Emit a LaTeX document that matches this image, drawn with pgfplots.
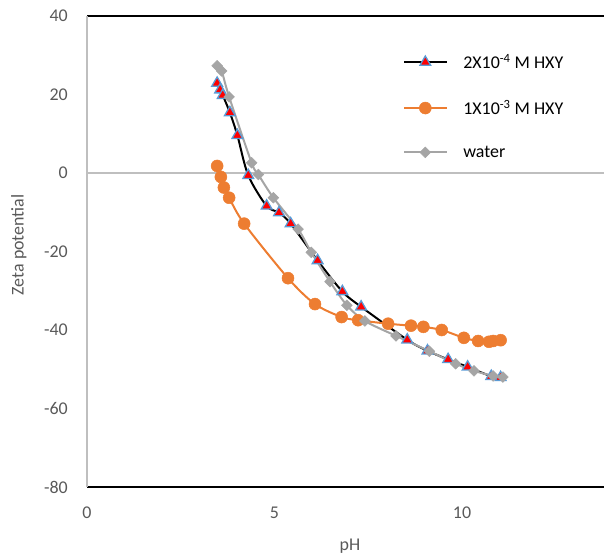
\documentclass[border=0pt]{standalone}
\usepackage{pgfplots}
\pgfplotsset{compat=1.18}
\usepackage{fontspec}
\setmainfont{Carlito}

\definecolor{seriesorange}{HTML}{ED7D31}
\definecolor{seriesgray}{HTML}{A5A5A5}
\definecolor{edgeblue}{HTML}{5B9BD5}
\definecolor{labelgray}{HTML}{595959}
\definecolor{linegray}{HTML}{BFBFBF}

% zeta potential vs pH
\pgfplotstableread{
ph    zeta
3.47  22.9
3.55  21.2
3.62  19.8
3.81  15.4
4.01   9.6
4.30  -0.6
4.79  -8.4
5.12 -10.1
5.43 -12.9
6.15 -22.3
6.81 -30.2
7.31 -34.1
8.54 -42.5
9.08 -45.3
9.63 -47.5
10.15 -49.4
10.78 -51.8
11.03 -52.1
}\lowconc

\pgfplotstableread{
ph    zeta
3.47   1.8
3.57  -1.0
3.65  -3.7
3.79  -6.3
4.19 -12.9
5.36 -26.8
6.08 -33.4
6.79 -36.7
7.23 -37.5
8.03 -38.4
8.64 -38.9
8.97 -39.2
9.46 -40.0
10.05 -42.0
10.43 -42.8
10.72 -43.0
10.83 -42.8
11.03 -42.6
}\highconc

\pgfplotstableread{
ph    zeta
3.47  27.3
3.59  26.0
3.79  19.4
4.39   2.6
4.57  -0.4
4.97  -6.3
5.63 -14.3
5.98 -20.2
6.48 -27.7
6.93 -33.7
7.41 -37.7
8.24 -41.5
9.13 -45.4
9.83 -48.6
10.32 -50.4
10.83 -51.7
11.09 -52.0
}\water

\begin{document}
\begin{tikzpicture}
\useasboundingbox (0,0) rectangle (604bp,553bp);
\begin{axis}[
  at={(87bp,66bp)}, anchor=south west,
  scale only axis,
  width=525bp, height=471bp,
  xmin=0, xmax=14, ymin=-80, ymax=40,
  xtick={0,5,10}, ytick={-80,-60,...,40},
  major tick length=0pt,
  separate axis lines,
  x axis line style={black, line width=1.3bp},
  y axis line style={linegray, line width=1.3bp},
  extra y ticks={0},
  extra y tick labels={},
  extra y tick style={grid=major, major grid style={linegray, line width=1.3bp}},
  font=\fontsize{18}{21}\selectfont,
  /pgf/number format/assume math mode=true,
  ticklabel style={text=labelgray, font=\fontsize{18}{21}\selectfont},
  yticklabel style={anchor=east, inner sep=0pt, xshift=-19bp},
  xticklabel style={anchor=north, inner sep=0pt, yshift=-20bp},
  xlabel={pH},
  ylabel={Zeta potential},
  label style={text=labelgray, font=\fontsize{18}{21}\selectfont, inner sep=0pt},
  xlabel style={at={(axis description cs:0.501,-0.1338)}, anchor=base},
  ylabel style={at={(axis description cs:-0.1208,0.514)}, anchor=base},
  legend image code/.code={%
    \draw[mark repeat=2, mark phase=2] plot coordinates {(0bp,0bp) (21bp,0bp) (42bp,0bp)};},
  legend style={draw=none, fill=none, at={(axis cs:8.35,30.8)}, anchor=north west,
    font=\fontsize{18}{21}\selectfont, row sep=30bp,
    nodes={inner sep=0pt},
    /tikz/every even column/.append style={column sep=0pt}},
  legend cell align=left,
]
\addplot[black, line width=2bp, smooth, tension=0.5,
  mark=triangle*, mark size=6.2bp,
  mark options={fill=red, draw=edgeblue, line width=1.3bp}]
  table[x=ph, y=zeta] {\lowconc};
\addlegendentry{\hspace{16bp}2X10\textsuperscript{-4} M HXY}

\addplot[seriesorange, line width=2bp, smooth, tension=0.5,
  mark=*, mark size=6bp,
  mark options={fill=seriesorange, draw=seriesorange, line width=0.5bp}]
  table[x=ph, y=zeta] {\highconc};
\addlegendentry{\hspace{16bp}1X10\textsuperscript{-3} M HXY}

\addplot[seriesgray, line width=2bp, smooth, tension=0.5,
  mark=square*, mark size=3.8bp,
  mark options={fill=seriesgray, draw=seriesgray, rotate=45, line width=0.5bp}]
  table[x=ph, y=zeta] {\water};
\addlegendentry{\hspace{16bp}water}
\end{axis}
\end{tikzpicture}
\end{document}
